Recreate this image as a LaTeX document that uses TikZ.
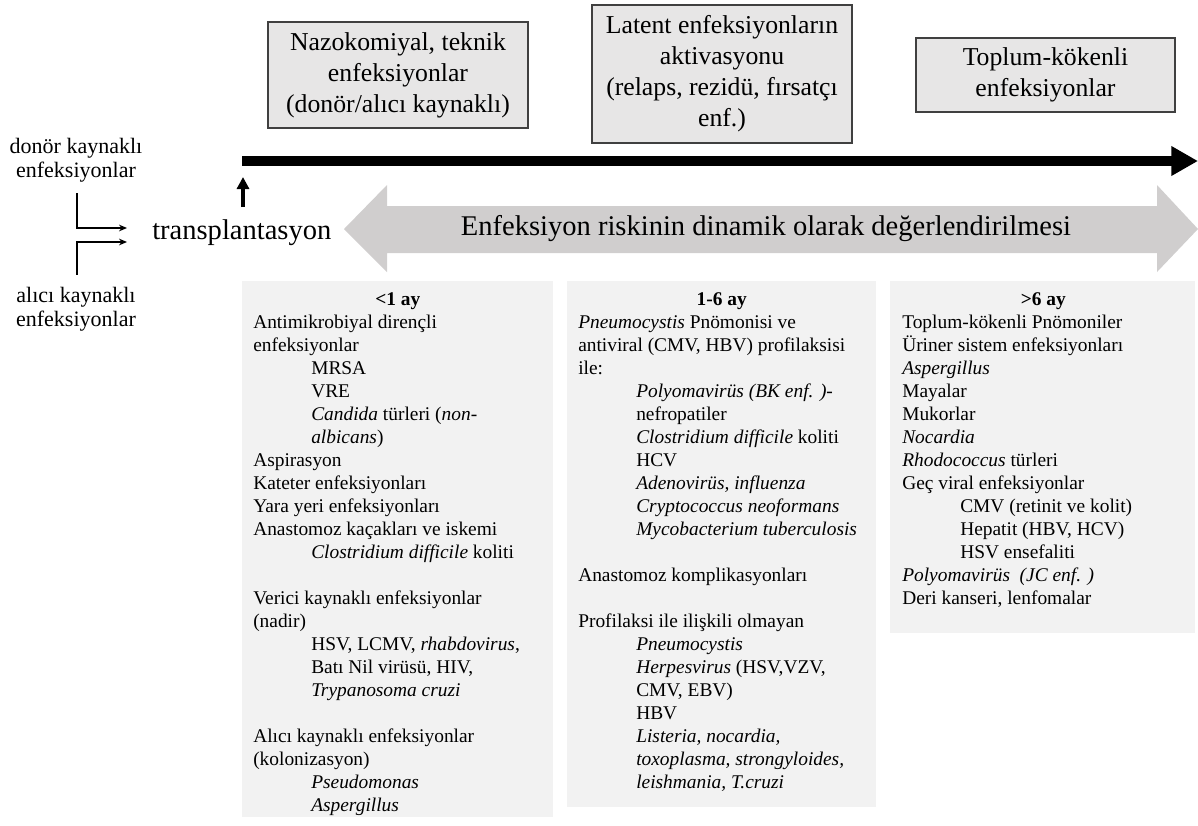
\documentclass[tikz,border=0pt]{standalone}
\usepackage{fontspec}
\setmainfont{Liberation Serif}
\usetikzlibrary{arrows.meta,calc}
\definecolor{boxfill}{HTML}{E7E6E6}
\definecolor{boxline}{HTML}{404040}
\definecolor{listfill}{HTML}{F2F2F2}
\definecolor{arrowgray}{HTML}{D0CECE}
\newcommand{\listind}{\hspace*{43.5pt}}
\begin{document}
\begin{tikzpicture}[x=0.75pt,y=-0.75pt,
  topbox/.style={draw=boxline, line width=0.9pt, fill=boxfill, align=center, inner sep=0pt,
                 font=\fontsize{19.3pt}{23.25pt}\selectfont},
  listbg/.style={fill=listfill, draw=none, inner sep=0pt, anchor=north west},
  listtext/.style={align=left, inner sep=0pt, anchor=north west,
                   font=\fontsize{14.55pt}{17.25pt}\selectfont},
  sidelabel/.style={align=center, inner sep=0pt, font=\fontsize{16.5pt}{18pt}\selectfont},
  bigtext/.style={inner sep=0pt, font=\fontsize{21.4pt}{25pt}\selectfont},
  conn/.style={line width=1pt, -{Stealth[length=6pt,width=5pt]}},
]
\useasboundingbox (0,0) rectangle (1198,825);

% top boxes
\node[topbox, minimum width=195pt, minimum height=79.5pt] (nozo) at (398,75)
  {Nazokomiyal, teknik\\enfeksiyonlar\\(donör/alıcı kaynaklı)};
\node[topbox, minimum width=195pt, minimum height=103.5pt] (latent) at (722,74)
  {Latent enfeksiyonların\\aktivasyonu\\(relaps, rezidü, fırsatçı\\enf.)};
\node[topbox, minimum width=194.25pt, minimum height=55.5pt] (toplum) at (1045.5,75)
  {Toplum-kökenli\\enfeksiyonlar};

% timeline
\coordinate (tlstart) at (242,161);
\coordinate (tlend) at (1198,161);
\draw[line width=7.5pt, -{Triangle[length=20pt,width=21pt]}] (tlstart) -- (tlend);

% up arrow
\coordinate (up0) at (243,207);
\coordinate (up1) at (243,177);
\draw[line width=3pt, -{Triangle[length=9pt,width=9pt]}] (up0) -- (up1);

% gray double arrow
\path[fill=arrowgray] (344,229) -- (387,185) -- (387,206) -- (1157,206) -- (1157,185)
  -- (1198,229) -- (1157,272) -- (1157,253) -- (387,253) -- (387,272) -- cycle;
\node[bigtext] (risk) at (766,229) {Enfeksiyon riskinin dinamik olarak değerlendirilmesi};

% left labels
\node[bigtext, anchor=west] (trans) at (152,233) {transplantasyon};
\node[sidelabel] (donor) at (76,160) {donör kaynaklı\\enfeksiyonlar};
\node[sidelabel] (alici) at (76,309.5) {alıcı kaynaklı\\enfeksiyonlar};
\draw[conn] ($(donor.south)+(1,11)$) |- ($(trans.west)+(-25,-5)$);
\draw[conn] ($(alici.north)+(1,-12.6)$) |- ($(trans.west)+(-25,9)$);

% list backgrounds
\node[listbg, minimum width=233.25pt, minimum height=402pt] (bgA) at (242,281) {};
\node[listbg, minimum width=231.75pt, minimum height=394.5pt] (bgB) at (567,281) {};
\node[listbg, minimum width=228.75pt, minimum height=264pt] (bgC) at (890,281) {};

% list texts
\node[listtext] (listA) at (253,289) {\strut\makebox[216.75pt]{\textbf{<1 ay}}\\
Antimikrobiyal dirençli\\
enfeksiyonlar\\
\listind MRSA\\
\listind VRE\\
\listind\textit{Candida} türleri (\textit{non-}\\
\listind\textit{albicans})\\
Aspirasyon\\
Kateter enfeksiyonları\\
Yara yeri enfeksiyonları\\
Anastomoz kaçakları ve iskemi\\
\listind\textit{Clostridium difficile} koliti\\
~\\
Verici kaynaklı enfeksiyonlar\\
(nadir)\\
\listind HSV, LCMV, \textit{rhabdovirus},\\
\listind Batı Nil virüsü, HIV,\\
\listind\textit{Trypanosoma cruzi}\\
~\\
Alıcı kaynaklı enfeksiyonlar\\
(kolonizasyon)\\
\listind\textit{Pseudomonas}\\
\listind\textit{Aspergillus}};

\node[listtext] (listB) at (578,289) {\strut\makebox[215.25pt]{\textbf{1-6 ay}}\\
\textit{Pneumocystis} Pnömonisi ve\\
antiviral (CMV, HBV) profilaksisi\\
ile:\\
\listind\textit{Polyomavirüs (BK enf. )}-\\
\listind nefropatiler\\
\listind\textit{Clostridium difficile} koliti\\
\listind HCV\\
\listind\textit{Adenovirüs, influenza}\\
\listind\textit{Cryptococcus neoformans}\\
\listind\textit{Mycobacterium tuberculosis}\\
~\\
Anastomoz komplikasyonları\\
~\\
Profilaksi ile ilişkili olmayan\\
\listind\textit{Pneumocystis}\\
\listind\textit{Herpesvirus} (HSV,VZV,\\
\listind CMV, EBV)\\
\listind HBV\\
\listind\textit{Listeria, nocardia,}\\
\listind\textit{toxoplasma, strongyloides,}\\
\listind\textit{leishmania, T.cruzi}};

\node[listtext] (listC) at (902,289) {\strut\makebox[211.5pt]{\textbf{>6 ay}}\\
Toplum-kökenli Pnömoniler\\
Üriner sistem enfeksiyonları\\
\textit{Aspergillus}\\
Mayalar\\
Mukorlar\\
\textit{Nocardia}\\
\textit{Rhodococcus} türleri\\
Geç viral enfeksiyonlar\\
\listind CMV (retinit ve kolit)\\
\listind Hepatit (HBV, HCV)\\
\listind HSV ensefaliti\\
\textit{Polyomavirüs~ (JC enf. )}\\
Deri kanseri, lenfomalar};
\end{tikzpicture}
\end{document}
